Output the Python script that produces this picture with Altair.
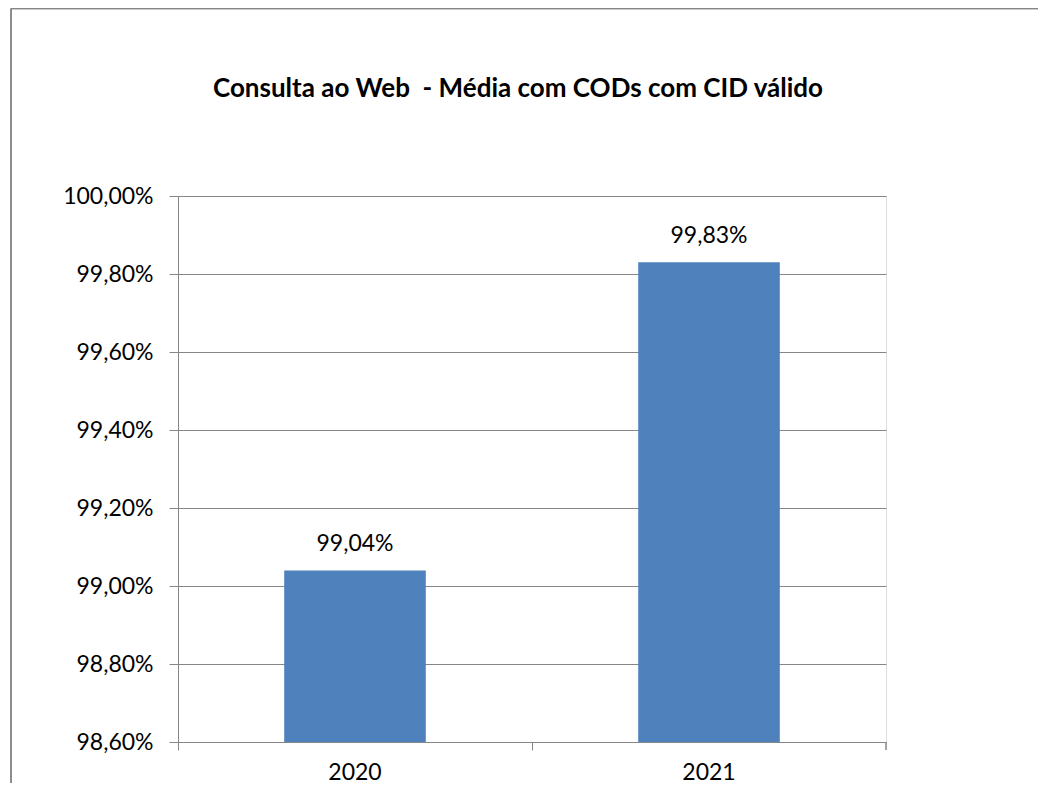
import altair as alt
import pandas as pd

years = ["2020", "2021"]
values = [99.04, 99.83]
y_ticks = [98.6, 98.8, 99.0, 99.2, 99.4, 99.6, 99.8, 100.0]
title_text = "Consulta ao Web \u00a0- Média com CODs com CID válido"
y_min = 98.6

labels = [f"{v:.2f}".replace(".", ",") + "%" for v in values]
df = pd.DataFrame({"year": years, "value": values, "label": labels})

W, H = 708, 546
GRAY = "#868686"
FONT = "Lato"
FS = 23

x = alt.X("year:N", title=None,
          scale=alt.Scale(paddingInner=0, paddingOuter=0),
          axis=alt.Axis(labelAngle=0, bandPosition=0, tickSize=8, tickColor=GRAY,
                        domainColor=GRAY, labelFont=FONT, labelFontSize=FS,
                        labelColor="black", labelPadding=11, grid=False))
y = alt.Y("value:Q", title=None,
          scale=alt.Scale(domain=[98.6, 100.0], nice=False, zero=False),
          axis=alt.Axis(values=y_ticks, tickSize=9, tickColor=GRAY, domainColor=GRAY,
                        gridColor=GRAY, gridOpacity=1, labelFont=FONT, labelFontSize=FS,
                        labelColor="black", labelPadding=16,
                        labelExpr="replace(format(datum.value, '.2f'), '.', ',') + '%'"))

base = alt.Chart(df)
bars = base.mark_bar(color="#4F81BD", width=alt.RelativeBandSize(0.4)).encode(
    x=x, y=y, y2=alt.datum(y_min))
text = base.mark_text(font=FONT, fontSize=FS, baseline="alphabetic", dy=-19, color="black").encode(
    x="year:N", y="value:Q", text="label:N")

end_tick = alt.Chart(df).mark_rule(color=GRAY).encode(
    x=alt.value(W), y=alt.value(H), y2=alt.value(H + 8))
border_left = alt.Chart(df).mark_rule(color=GRAY, strokeWidth=1.5).encode(
    x=alt.value(-167), y=alt.value(-187.5), y2=alt.value(H + 60))
border_top = alt.Chart(df).mark_rule(color=GRAY, strokeWidth=1.5).encode(
    x=alt.value(-167), x2=alt.value(W + 200), y=alt.value(-187.5))
title = alt.Chart(pd.DataFrame({"t": [title_text]})).mark_text(
    font=FONT, fontSize=26, fontWeight="bold", baseline="alphabetic", align="center", color="black"
).encode(x=alt.value(340), y=alt.value(-99), text="t:N")

chart = alt.layer(bars, text, end_tick, border_left, border_top, title).properties(
    width=W, height=H,
    autosize=alt.AutoSizeParams(type="none"),
    padding={"left": 170, "top": 188, "right": 152, "bottom": 41},
).configure_view(stroke=None).configure(background="white")

chart.save("out.html", embed_options={"renderer": "svg", "actions": False})
